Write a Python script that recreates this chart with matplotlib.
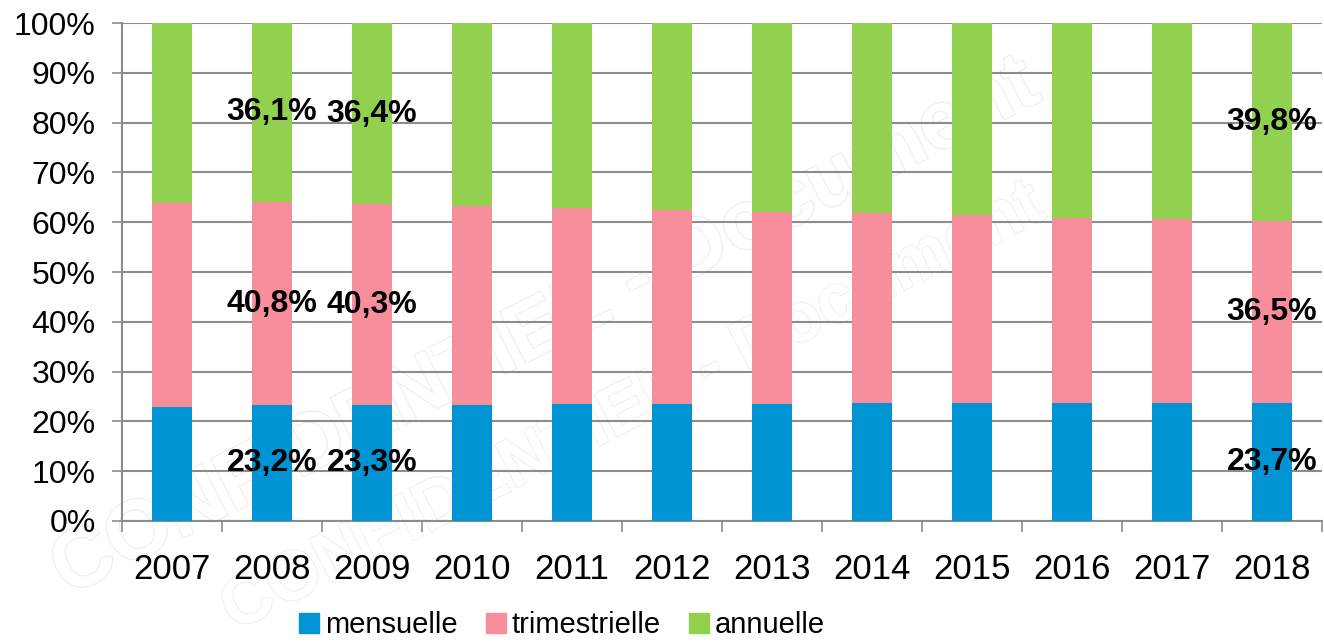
import matplotlib
matplotlib.use("Agg")
import matplotlib.pyplot as plt
import numpy as np
from matplotlib.lines import Line2D
import matplotlib.patheffects as pe

years = ["2007", "2008", "2009", "2010", "2011", "2012", "2013", "2014", "2015", "2016", "2017", "2018"]
mensuelle = [22.8, 23.2, 23.3, 23.3, 23.4, 23.4, 23.5, 23.6, 23.6, 23.6, 23.6, 23.7]
trimestrielle = [41.0, 40.8, 40.3, 39.9, 39.4, 39.0, 38.5, 38.2, 37.8, 37.3, 37.0, 36.5]
annuelle = [36.2, 36.1, 36.4, 36.8, 37.2, 37.6, 38.0, 38.2, 38.6, 39.1, 39.4, 39.8]
series_names = ["mensuelle", "trimestrielle", "annuelle"]
labelled_years = ["2008", "2009", "2018"]
yticks = [0, 10, 20, 30, 40, 50, 60, 70, 80, 90, 100]

colors = ["#0094D4", "#F88E9C", "#92D050"]
grid_c = "#8C8C8C"

plt.rcParams['font.family'] = ['Liberation Sans', 'DejaVu Sans']

fig = plt.figure(figsize=(13.24, 6.44), dpi=100)
ax = fig.add_axes([122/1324, (644-521)/644, 1200/1324, 498/644])
ax.set_facecolor("none")

# faint watermark behind everything
fig.text(0.03, 0.05, "CONFIDENTIEL - Document", rotation=27, fontsize=60, fontweight="bold",
         color="white", zorder=-10, ha="left", va="bottom",
         path_effects=[pe.withStroke(linewidth=1.5, foreground="#ececec")])
fig.text(0.16, 0.0, "CONFIDENTIEL - Document", rotation=27, fontsize=50, fontweight="bold",
         color="white", zorder=-10, ha="left", va="bottom",
         path_effects=[pe.withStroke(linewidth=1.5, foreground="#efefef")])

x = np.arange(len(years))
data = [mensuelle, trimestrielle, annuelle]
bottom = np.zeros(len(years))
for vals, col in zip(data, colors):
    v = np.array(vals)
    ax.bar(x, v, bottom=bottom, width=0.4, color=col, zorder=3)
    for i, yr in enumerate(years):
        if yr in labelled_years:
            ax.text(x[i], bottom[i] + v[i] / 2, f"{v[i]:.1f}%".replace(".", ","),
                    ha="center", va="center", fontsize=23, fontweight="bold",
                    color="black", zorder=5)
    bottom = bottom + v

ax.set_xlim(-0.5, len(years) - 0.5)
ax.set_ylim(0, 100)
ax.set_yticks(yticks)
ax.set_yticklabels([f"{t}%" for t in yticks], fontsize=23)
ax.yaxis.grid(True, color=grid_c, linewidth=1.5, zorder=0)
ax.set_axisbelow(True)
ax.tick_params(axis="y", length=7, width=1.2, color=grid_c, pad=12)

ax.set_xticks(x)
ax.set_xticklabels(years, fontsize=25)
ax.tick_params(axis="x", which="major", length=0, pad=23)
ax.set_xticks(np.arange(-0.5, len(years), 1), minor=True)
ax.tick_params(axis="x", which="minor", length=8, width=1.2, color=grid_c)

for s in ["top", "right"]:
    ax.spines[s].set_visible(False)
for s in ["left", "bottom"]:
    ax.spines[s].set_color(grid_c)
    ax.spines[s].set_linewidth(1.5)

handles = [Line2D([0], [0], marker="s", linestyle="none", markersize=14,
                  markerfacecolor=c, markeredgecolor=c) for c in colors]
fig.legend(handles, series_names, loc="lower center", bbox_to_anchor=(0.424, -0.033),
           ncol=3, frameon=False, prop={"size": 21},
           handletextpad=0.15, columnspacing=0.9, handlelength=0.8)

fig.savefig("out.png", dpi=100)
